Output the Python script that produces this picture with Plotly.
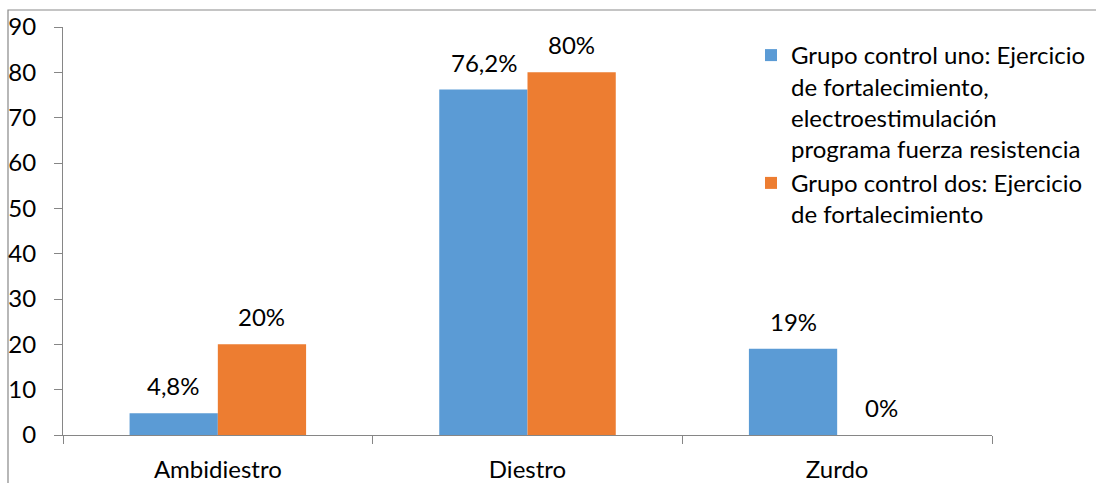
import plotly.graph_objects as go

categories = ["Ambidiestro", "Diestro", "Zurdo"]
grupo_uno = [4.8, 76.2, 19]
grupo_dos = [20, 80, 0]
labels_uno = ["4,8%", "76,2%", "19%"]
labels_dos = ["20%", "80%", "0%"]
name_uno = "Grupo control uno: Ejercicio<br>de fortalecimiento,<br>electroestimulación<br>programa fuerza resistencia"
name_dos = "Grupo control dos: Ejercicio<br>de fortalecimiento"

FONT = "Lato"
FS = 24
BLUE = "#5B9BD5"
ORANGE = "#ED7D31"
AXIS = "#868686"

fig = go.Figure()
fig.add_trace(go.Bar(x=categories, y=grupo_uno, name=name_uno, marker=dict(color=BLUE, line=dict(width=0))))
fig.add_trace(go.Bar(x=categories, y=grupo_dos, name=name_dos, marker=dict(color=ORANGE, line=dict(width=0))))

annotations = []
for vals, labs, shift in ((grupo_uno, labels_uno, -44), (grupo_dos, labels_dos, 44)):
    for c, v, t in zip(categories, vals, labs):
        annotations.append(dict(x=c, y=v, xref="x", yref="y", text=t, showarrow=False,
                                xshift=shift, yshift=11, yanchor="bottom",
                                font=dict(family=FONT, size=FS, color="#000000")))

fig.update_layout(
    width=1096, height=483,
    margin=dict(l=63, r=104, t=27, b=48, autoexpand=False),
    paper_bgcolor="white", plot_bgcolor="white",
    barmode="group", bargap=0.43, bargroupgap=0,
    font=dict(family=FONT, size=FS, color="#000000"),
    showlegend=True,
    legend=dict(x=(751 - 63) / 929, y=(435 - 33) / 408, xanchor="left", yanchor="top",
                bgcolor="rgba(0,0,0,0)", font=dict(family=FONT, size=FS, color="#000000"),
                traceorder="normal", itemclick=False, valign="top", tracegroupgap=4),
    annotations=annotations,
    shapes=[dict(type="rect", xref="paper", yref="paper",
                 x0=(8 - 63) / 929, x1=1.3, y0=-0.3, y1=(435 - 10) / 408,
                 line=dict(color="#898989", width=1.2), fillcolor="rgba(0,0,0,0)", layer="below")],
)
fig.update_xaxes(showline=True, linecolor=AXIS, linewidth=1.2, ticks="outside", tickson="boundaries",
                 ticklen=8, tickcolor=AXIS, tickwidth=1.2, showgrid=False, zeroline=False, automargin=False,
                 ticklabelstandoff=13, tickfont=dict(family=FONT, size=FS, color="#000000"))
fig.update_yaxes(range=[0, 90], dtick=10, showline=True, linecolor=AXIS, linewidth=1.2, ticks="outside",
                 ticklen=8, tickcolor=AXIS, tickwidth=1.2, showgrid=False, zeroline=False, automargin=False,
                 ticklabelstandoff=13, tickfont=dict(family=FONT, size=FS, color="#000000"))

fig.write_html("out.html")
